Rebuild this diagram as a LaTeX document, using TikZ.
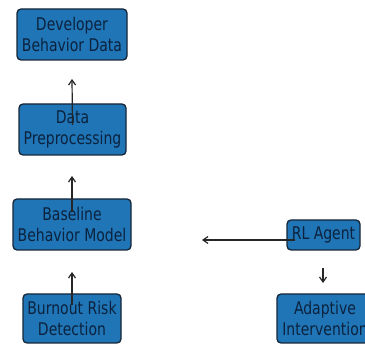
\documentclass[tikz,border=0pt]{standalone}
\usepackage{fontspec}
\setmainfont{DejaVu Sans}[FakeStretch=0.8]
\usetikzlibrary{arrows.meta}
\definecolor{boxfill}{RGB}{31,117,181}
\definecolor{boxline}{RGB}{22,38,56}
\definecolor{boxtext}{RGB}{12,34,62}
\tikzset{
  flowbox/.style={draw=boxline, fill=boxfill, line width=1.3pt, rounded corners=4pt,
    inner sep=0pt, align=center, text=boxtext,
    font=\fontsize{17.5}{21}\selectfont},
  arr/.style={-{Straight Barb[length=5pt,width=7pt]}, line width=1.2pt, color=black!85}
}
\begin{document}
\begin{tikzpicture}[x=1pt,y=-1pt]
\useasboundingbox (0,0) rectangle (365,345);
\clip (0,0) rectangle (365,345);
\node[flowbox, minimum width=110pt, minimum height=51pt] (dev) at (72,34.5) {Developer\\Behavior Data};
\node[flowbox, minimum width=107pt, minimum height=51pt] (prep) at (72.5,129.5) {Data\\Preprocessing};
\node[flowbox, minimum width=118pt, minimum height=51pt] (base) at (72,224.5) {Baseline\\Behavior Model};
\node[flowbox, minimum width=98pt, minimum height=49pt] (burn) at (72,318.5) {Burnout Risk\\Detection};
\node[flowbox, minimum width=73pt, minimum height=30pt] (rl) at (323.5,235) {RL Agent};
\node[flowbox, minimum width=96pt, minimum height=49pt] (adapt) at (325,318.5) {Adaptive\\Intervention};
\coordinate (t1) at (72,79);
\coordinate (t2) at (72,176);
\coordinate (t3) at (72,272);
\coordinate (t4) at (202,240);
\coordinate (s5) at (323,268);
\coordinate (t5) at (323,283);
\draw[arr] ([yshift=4.5pt]prep.center) -- (t1);
\draw[arr] ([yshift=12.5pt]base.center) -- (t2);
\draw[arr] ([yshift=13.5pt]burn.center) -- (t3);
\draw[arr] ([xshift=-28.5pt,yshift=-5pt]rl.center) -- (t4);
\draw[arr] (s5) -- (t5);
\end{tikzpicture}
\end{document}
